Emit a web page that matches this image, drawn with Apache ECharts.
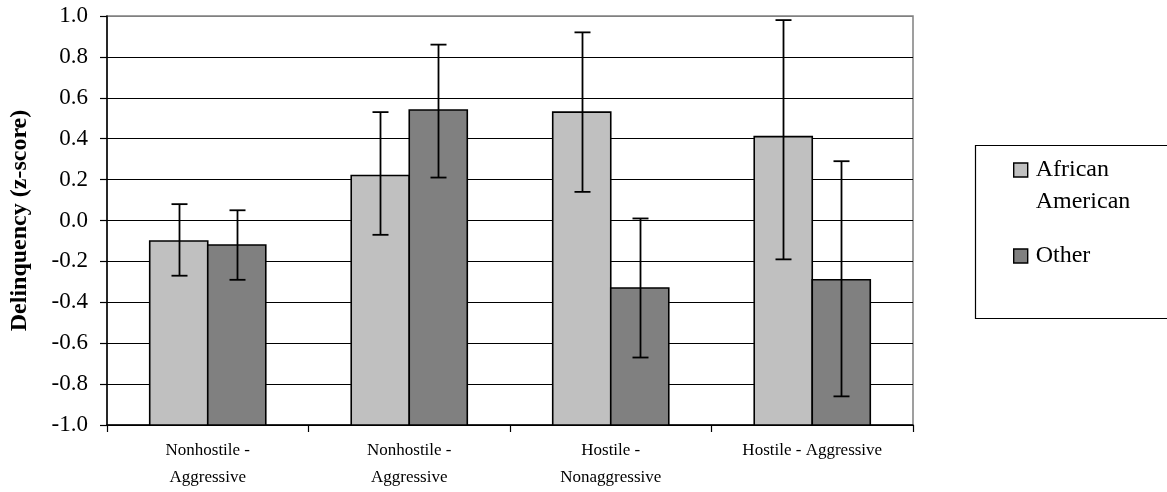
<!DOCTYPE html>
<html>
<head>
<meta charset="utf-8">
<script src="https://cdn.jsdelivr.net/npm/echarts@6/dist/echarts.min.js"></script>
<style>html,body{margin:0;padding:0;background:#fff}#c{width:1167px;height:492px}</style>
</head>
<body>
<div id="c"></div>
<script>
var categories = ['Nonhostile -\nAggressive', 'Nonhostile -\nAggressive', 'Hostile -\nNonaggressive', 'Hostile - Aggressive'];
var seriesNames = ['African American', 'Other'];
var africanAmerican = [-0.10, 0.22, 0.53, 0.41];
var africanAmericanLow = [-0.27, -0.07, 0.14, -0.19];
var africanAmericanHigh = [0.08, 0.53, 0.92, 0.98];
var other = [-0.12, 0.54, -0.33, -0.29];
var otherLow = [-0.29, 0.21, -0.67, -0.86];
var otherHigh = [0.05, 0.86, 0.01, 0.29];
var yTicks = [-1.0, -0.8, -0.6, -0.4, -0.2, 0.0, 0.2, 0.4, 0.6, 0.8, 1.0];

var colors = ['#C0C0C0', '#808080'];
var FONT = '"Liberation Serif", "Times New Roman", serif';
var BAR_FRAC = 0.288;
var Y_MIN = -1;

function barRender(offsetSign) {
  return function (params, api) {
    var idx = api.value(0);
    var v = api.value(1);
    var band = api.size([1, 0])[0];
    var w = band * BAR_FRAC;
    var base = api.coord([idx, Y_MIN]);
    var top = api.coord([idx, v]);
    var cx = base[0] + offsetSign * w / 2;
    return {
      type: 'rect',
      shape: { x: cx - w / 2, y: top[1], width: w, height: base[1] - top[1] },
      style: { fill: colors[offsetSign < 0 ? 0 : 1], stroke: '#000', lineWidth: 1.6 }
    };
  };
}
function errRender(offsetSign) {
  return function (params, api) {
    var idx = api.value(0);
    var band = api.size([1, 0])[0];
    var w = band * BAR_FRAC;
    var lo = api.coord([idx, api.value(1)]);
    var hi = api.coord([idx, api.value(2)]);
    var cx = Math.round(lo[0] + offsetSign * w / 2) + 0.5;
    var cap = 8;
    var st = { stroke: '#000', lineWidth: 1.8 };
    return {
      type: 'group',
      children: [
        { type: 'line', shape: { x1: cx, y1: lo[1], x2: cx, y2: hi[1] }, style: st },
        { type: 'line', shape: { x1: cx - cap, y1: lo[1], x2: cx + cap, y2: lo[1] }, style: st },
        { type: 'line', shape: { x1: cx - cap, y1: hi[1], x2: cx + cap, y2: hi[1] }, style: st }
      ]
    };
  };
}

var aaBars = africanAmerican.map(function (v, i) { return [i, v]; });
var otBars = other.map(function (v, i) { return [i, v]; });
var aaErr = africanAmerican.map(function (v, i) { return [i, africanAmericanLow[i], africanAmericanHigh[i]]; });
var otErr = other.map(function (v, i) { return [i, otherLow[i], otherHigh[i]]; });

var splitColors = yTicks.map(function (t, i) { return i === yTicks.length - 1 ? '#808080' : '#000'; });

var chart = echarts.init(document.getElementById('c'), null, { renderer: 'canvas' });
chart.setOption({
  animation: false,
  backgroundColor: '#fff',
  grid: { left: 107, right: 254, top: 16, bottom: 67, show: true, borderColor: '#808080', borderWidth: 1.5, backgroundColor: 'transparent' },
  xAxis: {
    type: 'category',
    data: categories,
    axisLine: { onZero: false, lineStyle: { color: '#000', width: 1.5 } },
    axisTick: { show: true, length: 7, lineStyle: { color: '#000', width: 1.2 } },
    axisLabel: { color: '#000', fontFamily: FONT, fontSize: 17, lineHeight: 27, margin: 12 },
    splitLine: { show: false }
  },
  yAxis: {
    type: 'value',
    min: -1, max: 1, interval: 0.2,
    name: 'Delinquency (z-score)',
    nameLocation: 'middle',
    nameGap: 75,
    nameTextStyle: { color: '#000', fontFamily: FONT, fontSize: 24, fontWeight: 'bold' },
    axisLine: { show: true, lineStyle: { color: '#000', width: 1.5 } },
    axisTick: { show: true, length: 7, lineStyle: { color: '#000', width: 1.2 } },
    axisLabel: { color: '#000', fontFamily: FONT, fontSize: 23, margin: 19, formatter: function (v) { return v.toFixed(1); } },
    splitLine: { show: true, lineStyle: { color: splitColors, width: 1 } }
  },
  legend: {
    orient: 'vertical',
    left: 1013,
    top: 122,
    padding: 0,
    icon: 'rect',
    itemWidth: 14,
    itemHeight: 14,
    itemGap: 22,
    selectedMode: false,
    textStyle: { color: '#000', fontFamily: FONT, fontSize: 24, lineHeight: 32, padding: [0, 0, 0, 3] },
    formatter: function (n) { return n === 'African American' ? '\nAfrican\nAmerican' : n; },
    data: [
      { name: seriesNames[0], itemStyle: { color: colors[0], borderColor: '#000', borderWidth: 1.4 } },
      { name: seriesNames[1], itemStyle: { color: colors[1], borderColor: '#000', borderWidth: 1.4 } }
    ]
  },
  graphic: [
    { type: 'rect', left: 973, top: 143, shape: { width: 200, height: 173 }, style: { fill: 'none', stroke: '#000', lineWidth: 1.2 }, z: -1 }
  ],
  series: [
    { name: seriesNames[0], type: 'custom', renderItem: barRender(-1), data: aaBars, itemStyle: { color: colors[0], borderColor: '#000' }, encode: { x: 0, y: 1 }, z: 2 },
    { name: seriesNames[1], type: 'custom', renderItem: barRender(1), data: otBars, itemStyle: { color: colors[1], borderColor: '#000' }, encode: { x: 0, y: 1 }, z: 2 },
    { name: seriesNames[0] + ' error', type: 'custom', renderItem: errRender(-1), data: aaErr, encode: { x: 0, y: [1, 2] }, z: 3 },
    { name: seriesNames[1] + ' error', type: 'custom', renderItem: errRender(1), data: otErr, encode: { x: 0, y: [1, 2] }, z: 3 }
  ]
});
</script>
</body>
</html>
